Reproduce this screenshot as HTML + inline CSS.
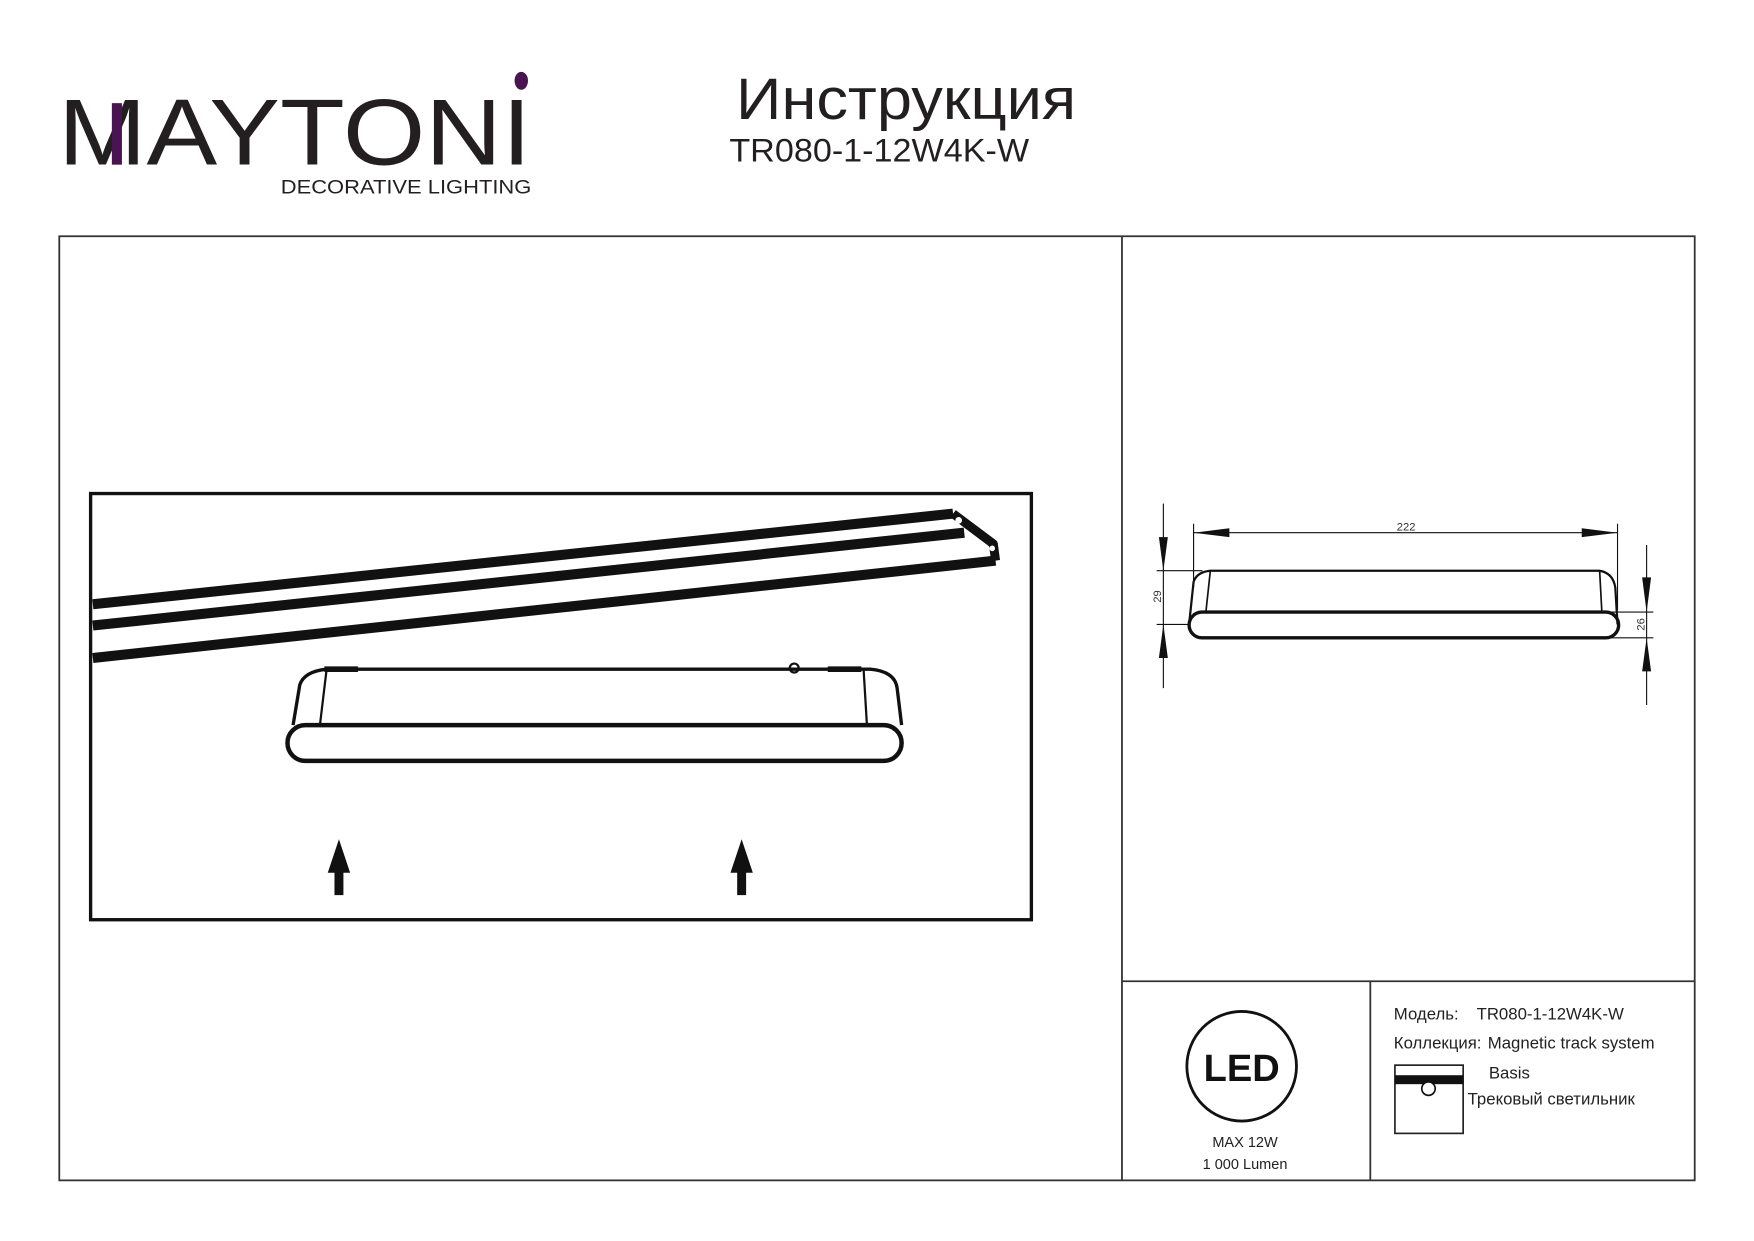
<!DOCTYPE html>
<html><head><meta charset="utf-8"><style>html,body{margin:0;padding:0;background:#fff}svg{display:block}</style></head><body>
<svg width="1754" height="1241" viewBox="0 0 1568 1109" xmlns="http://www.w3.org/2000/svg" font-family="Liberation Sans, Noto Sans CJK SC, sans-serif">
<rect width="1568" height="1109" fill="#fff"/>
<!-- logo -->
<text x="52" y="147" font-size="84" fill="#231f20" textLength="423" lengthAdjust="spacingAndGlyphs">MAYTONI</text>
<rect x="100" y="92" width="9" height="55" fill="#4a1450"/>
<ellipse cx="466" cy="72" rx="6" ry="8" fill="#4a1450"/>
<text x="251" y="173" font-size="17" fill="#231f20" textLength="224" lengthAdjust="spacingAndGlyphs">DECORATIVE LIGHTING</text>
<text x="658" y="106" font-size="52" fill="#231f20" textLength="304" lengthAdjust="spacingAndGlyphs">Инструкция</text>
<text x="652" y="144" font-size="29" fill="#231f20" textLength="268" lengthAdjust="spacingAndGlyphs">TR080-1-12W4K-W</text>
<!-- frame -->
<g stroke="#333" stroke-width="1.6" fill="none">
<rect x="53" y="211" width="1462" height="844"/>
<line x1="1003" y1="211" x2="1003" y2="1055"/>
<line x1="1003" y1="877" x2="1515" y2="877"/>
<line x1="1225" y1="877" x2="1225" y2="1055"/>
</g>
<!-- inner panel -->
<rect x="81" y="441" width="841" height="381" fill="none" stroke="#111" stroke-width="3"/>
<g stroke="#111" stroke-width="9" fill="none" stroke-linejoin="round">
<line x1="83" y1="540" x2="852" y2="459"/>
<line x1="83" y1="559" x2="862" y2="476"/>
<line x1="83" y1="588" x2="890" y2="501"/>
<path d="M852 459 L888 486 L890 501" stroke-width="8"/>
</g>
<circle cx="857" cy="465" r="3" fill="#fff"/>
<circle cx="887" cy="490" r="2.5" fill="#fff"/>
<!-- luminaire -->
<g stroke="#111" fill="none">
<path d="M262 648 L268 612 Q272 600 292 598 L778 598 Q800 600 802 615 L806 648" stroke-width="3"/>
<line x1="292" y1="598" x2="286" y2="648" stroke-width="2"/>
<line x1="772" y1="598" x2="775" y2="648" stroke-width="2"/>
<rect x="257" y="648" width="549" height="32" rx="16" stroke-width="4"/>
<line x1="290" y1="598" x2="320" y2="598" stroke-width="5"/>
<line x1="740" y1="598" x2="770" y2="598" stroke-width="5"/>
<circle cx="710" cy="597" r="4" stroke-width="2"/>
</g>
<!-- arrows -->
<g fill="#111">
<rect x="299" y="775" width="8" height="25"/><polygon points="303,750 293,780 313,780"/>
<rect x="659" y="775" width="8" height="25"/><polygon points="663,750 653,780 673,780"/>
</g>
<!-- right drawing -->
<g stroke="#111" stroke-width="1" fill="none">
<line x1="1067" y1="476" x2="1446" y2="476"/>
<line x1="1067" y1="468" x2="1067" y2="525"/>
<line x1="1446" y1="468" x2="1446" y2="545"/>
<line x1="1040" y1="450" x2="1040" y2="615"/>
<line x1="1034" y1="510" x2="1075" y2="510"/>
<line x1="1034" y1="558" x2="1063" y2="558"/>
<line x1="1472" y1="487" x2="1472" y2="630"/>
<line x1="1440" y1="547" x2="1478" y2="547"/>
<line x1="1440" y1="570" x2="1478" y2="570"/>
</g>
<g fill="#111">
<polygon points="1067,476 1099,472 1099,480"/>
<polygon points="1446,476 1414,472 1414,480"/>
<polygon points="1040,510 1036,480 1044,480"/>
<polygon points="1040,558 1036,588 1044,588"/>
<polygon points="1472,547 1468,516 1476,516"/>
<polygon points="1472,570 1468,600 1476,600"/>
</g>
<g stroke="#111" fill="none">
<path d="M1063 558 L1067 520 Q1070 511 1082 510 L1430 510 Q1442 512 1444 525 L1446 558" stroke-width="2"/>
<line x1="1082" y1="510" x2="1078" y2="547" stroke-width="1.5"/>
<line x1="1430" y1="510" x2="1432" y2="547" stroke-width="1.5"/>
<rect x="1063" y="547" width="384" height="23" rx="11.5" stroke-width="3"/>
</g>
<text x="1257" y="474" font-size="10" text-anchor="middle" fill="#333">222</text>
<text transform="translate(1038,533) rotate(-90)" font-size="10" text-anchor="middle" fill="#333">29</text>
<text transform="translate(1470,558) rotate(-90)" font-size="10" text-anchor="middle" fill="#333">26</text>
<!-- LED -->
<circle cx="1110" cy="953" r="49" fill="none" stroke="#111" stroke-width="2.5"/>
<text x="1110" y="966" font-size="34" font-weight="bold" text-anchor="middle" fill="#111" textLength="68" lengthAdjust="spacingAndGlyphs">LED</text>
<text x="1113" y="1025" font-size="13" text-anchor="middle" fill="#222">MAX 12W</text>
<text x="1113" y="1045" font-size="13" text-anchor="middle" fill="#222">1 000 Lumen</text>
<!-- info -->
<g font-size="15" fill="#222">
<text x="1246" y="911">Модель:</text>
<text x="1320" y="911">TR080-1-12W4K-W</text>
<text x="1246" y="937">Коллекция:</text>
<text x="1330" y="937">Magnetic track system</text>
<text x="1331" y="964">Basis</text>
<text x="1312" y="987">Трековый светильник</text>
</g>
<rect x="1247" y="952" width="61" height="61" fill="none" stroke="#222" stroke-width="1.5"/>
<rect x="1247" y="961" width="61" height="8" fill="#111"/>
<circle cx="1277" cy="973" r="6" fill="#fff" stroke="#111" stroke-width="1.5"/>
</svg>
</body></html>
